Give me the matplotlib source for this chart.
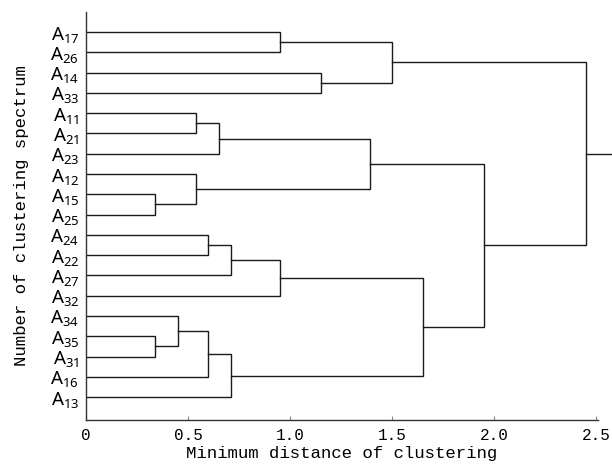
import matplotlib
matplotlib.use("Agg")
import matplotlib.pyplot as plt

# ---- data ----
leaves = ["17", "26", "14", "33", "11", "21", "23", "12", "15", "25",
          "24", "22", "27", "32", "34", "35", "31", "16", "13"]
# merges: (left, right, height); str = leaf id, int = index of earlier merge
merges = [
    ("17", "26", 0.95),   # 0
    ("14", "33", 1.15),   # 1
    (0, 1, 1.50),         # 2
    ("11", "21", 0.54),   # 3
    (3, "23", 0.65),      # 4
    ("15", "25", 0.34),   # 5
    ("12", 5, 0.54),      # 6
    (4, 6, 1.39),         # 7
    ("24", "22", 0.60),   # 8
    (8, "27", 0.71),      # 9
    (9, "32", 0.95),      # 10
    ("35", "31", 0.34),   # 11
    ("34", 11, 0.45),     # 12
    (12, "16", 0.60),     # 13
    (13, "13", 0.71),     # 14
    (10, 14, 1.65),       # 15
    (7, 15, 1.95),        # 16
    (2, 16, 2.45),        # 17
]
xticks = [0, 0.5, 1.0, 1.5, 2.0, 2.5]
xtick_labels = ["0", "0.5", "1.0", "1.5", "2.0", "2.5"]
xlabel = "Minimum distance of clustering"
ylabel = "Number of clustering spectrum"

# ---- plot ----
W, H = 612, 466
fig = plt.figure(figsize=(W / 100, H / 100), dpi=100)
ax = fig.add_axes([86 / W, (H - 420) / H, (598 - 86) / W, (420 - 12) / H])

lc = "#1a1a1a"
lw = 1.0
pos = {lf: i for i, lf in enumerate(leaves)}
node = []  # (y, x) of each merge


def get(c):
    if isinstance(c, str):
        return pos[c], 0.0
    return node[c]


for a, b, h in merges:
    ya, xa = get(a)
    yb, xb = get(b)
    ax.plot([xa, h, h, xb], [ya, ya, yb, yb], color=lc, lw=lw,
            solid_joinstyle="miter")
    node.append(((ya + yb) / 2, h))

# root stub
ry, rx = node[-1]
ax.plot([rx, 2.7], [ry, ry], color=lc, lw=lw, clip_on=False)

ax.set_xlim(0, 2.51)
ax.set_ylim(len(leaves) - 1 + 1.13, -0.99)

ax.spines["top"].set_visible(False)
ax.spines["right"].set_visible(False)
for s in ("left", "bottom"):
    ax.spines[s].set_color("#333333")
    ax.spines[s].set_linewidth(1.0)

mono = ["Liberation Mono", "DejaVu Sans Mono"]
ax.set_xticks(xticks)
ax.set_xticklabels(xtick_labels, family=mono, fontsize=11.5)
ax.tick_params(axis="x", direction="in", length=3, width=0.8,
               color="#888888", pad=6)

ax.set_yticks(range(len(leaves)))
ax.set_yticklabels([r"$\mathregular{A_{%s}}$" % lf for lf in leaves],
                   family="Noto Sans", fontsize=13.5)
ax.tick_params(axis="y", length=0, pad=5)

ax.set_xlabel(xlabel, family=mono, fontsize=12.5, labelpad=2)
ax.set_ylabel(ylabel, family=mono, fontsize=12.5, labelpad=15)

fig.savefig("out.png", dpi=100)
